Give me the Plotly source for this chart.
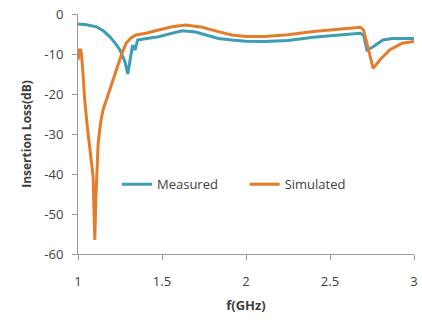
import plotly.graph_objects as go

meas_f = [1.0, 1.05, 1.11, 1.15, 1.19, 1.22, 1.25, 1.28, 1.296, 1.31, 1.325, 1.34, 1.355, 1.40, 1.48, 1.55, 1.62, 1.70, 1.78, 1.835, 1.915, 2.0, 2.11, 2.25, 2.4, 2.55, 2.68, 2.70, 2.72, 2.757, 2.79, 2.815, 2.87, 2.93, 3.0]
meas_db = [-2.5, -2.7, -3.2, -4.2, -5.7, -7.2, -9.0, -12.0, -15.0, -11.5, -7.8, -9.0, -6.5, -6.2, -5.7, -4.9, -4.2, -4.5, -5.4, -6.1, -6.5, -6.8, -6.9, -6.6, -5.8, -5.3, -4.8, -5.3, -9.0, -8.2, -7.1, -6.5, -6.1, -6.1, -6.1]

sim_f = [1.0, 1.008, 1.015, 1.02, 1.03, 1.04, 1.055, 1.07, 1.09, 1.1, 1.106, 1.12, 1.135, 1.149, 1.17, 1.188, 1.21, 1.237, 1.26, 1.286, 1.315, 1.345, 1.404, 1.48, 1.56, 1.64, 1.74, 1.835, 1.915, 2.0, 2.11, 2.25, 2.4, 2.55, 2.68, 2.70, 2.73, 2.757, 2.796, 2.855, 2.93, 3.0]
sim_db = [-11.5, -9.0, -9.0, -9.8, -15.0, -21.5, -28.0, -34.0, -40.7, -56.5, -46.5, -32.3, -27.0, -24.0, -21.3, -19.0, -16.2, -13.2, -10.0, -7.3, -6.0, -5.25, -4.8, -4.0, -3.2, -2.75, -3.3, -4.4, -5.25, -5.6, -5.6, -5.2, -4.4, -3.8, -3.3, -4.0, -9.0, -13.6, -11.5, -9.0, -7.3, -6.9]

x_ticks = [1, 1.5, 2, 2.5, 3]
x_tick_labels = ["1", "1.5", "2", "2.5", "3"]
y_ticks = [0, -10, -20, -30, -40, -50, -60]
y_tick_labels = ["0", "-10", "-20", "-30", "-40", "-50", "-60"]

TEAL = "#3d9db5"
ORANGE = "#e47c2c"
FONT = "Open Sans"

fig = go.Figure()
fig.add_trace(go.Scatter(x=meas_f, y=meas_db, mode="lines", name="Measured",
                         line=dict(color=TEAL, width=3), legend="legend"))
fig.add_trace(go.Scatter(x=sim_f, y=sim_db, mode="lines", name="Simulated",
                         line=dict(color=ORANGE, width=3), legend="legend2"))

leg_common = dict(orientation="h", yanchor="middle", xanchor="left",
                  bgcolor="rgba(0,0,0,0)", font=dict(family=FONT, size=13, color="#404040"),
                  itemwidth=30)

fig.update_layout(
    width=422, height=324,
    margin=dict(l=78, r=4, t=14, b=70),
    paper_bgcolor="white", plot_bgcolor="white",
    font=dict(family=FONT, size=12, color="#404040"),
    showlegend=True,
    legend=dict(x=0.116, y=0.29, **leg_common),
    legend2=dict(x=0.496, y=0.29, **leg_common),
)
fig.update_xaxes(range=[1, 3], tickvals=x_ticks, ticktext=x_tick_labels,
                 showgrid=False, zeroline=False, showline=True, linecolor="#9a9a9a",
                 linewidth=1, ticks="outside", ticklen=5, tickcolor="#9a9a9a",
                 tickfont=dict(size=13), ticklabelstandoff=10,
                 title=dict(text="<b>f(GHz)</b>", font=dict(size=13, color="#404040"), standoff=12))
fig.update_yaxes(range=[-60, 0], tickvals=y_ticks, ticktext=y_tick_labels,
                 showgrid=False, zeroline=False, showline=True, linecolor="#9a9a9a",
                 linewidth=1, ticks="outside", ticklen=5, tickcolor="#9a9a9a",
                 tickfont=dict(size=13), ticklabelstandoff=6,
                 title=dict(text="<b>Insertion Loss(dB)</b>", font=dict(size=12, color="#404040"), standoff=10))

fig.write_html("out.html")
